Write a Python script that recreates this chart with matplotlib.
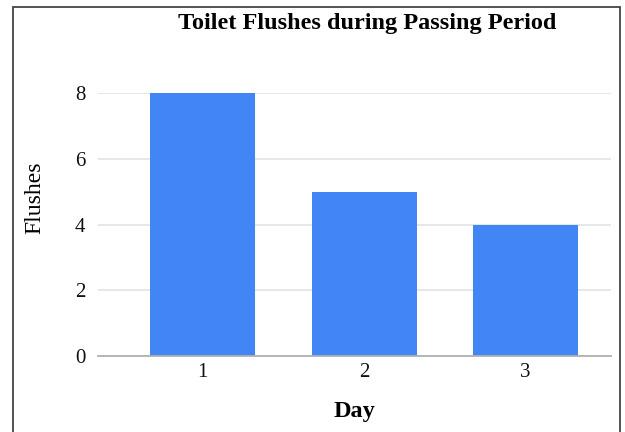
import matplotlib
matplotlib.use("Agg")
import matplotlib.pyplot as plt
from matplotlib.patches import Rectangle

days = ["1", "2", "3"]
flushes = [8, 5, 4]
y_ticks = [0, 2, 4, 6, 8]

plt.rcParams["font.family"] = ["Liberation Serif", "DejaVu Serif"]

W, H = 625, 432
fig = plt.figure(figsize=(W / 100, H / 100), dpi=100)
fig.patch.set_facecolor("white")

# frame around the chart
fig.add_artist(Rectangle((13 / W, -0.05), (620 - 13) / W, 1.05 - 7 / H,
                         transform=fig.transFigure, fill=False,
                         edgecolor="#444444", linewidth=1.3))

ax = fig.add_axes([98 / W, (H - 356) / H, (611 - 98) / W, (356 - 93) / H])
x = list(range(1, len(days) + 1))
ax.bar(x, flushes, width=0.65, color="#4285F4", zorder=3)

ax.set_xlim(0.35, 3.53)
ax.set_ylim(0, 8)
ax.set_xticks(x)
ax.set_xticklabels(days)
ax.set_yticks(y_ticks)
ax.grid(axis="y", color="#e3e3e3", linewidth=1.2, zorder=0)
ax.set_axisbelow(True)
for side in ["top", "right", "left"]:
    ax.spines[side].set_visible(False)
ax.spines["bottom"].set_color("#b0b0b0")
ax.spines["bottom"].set_linewidth(1.3)
ax.spines["bottom"].set_zorder(4)
ax.tick_params(axis="both", length=0, labelsize=15, colors="#111111")
ax.tick_params(axis="x", pad=5)
ax.tick_params(axis="y", pad=9)

fig.text(354 / W, 1 - 411 / H, "Day", ha="center", va="center",
         fontsize=17.5, fontweight="bold")
fig.text(35 / W, 1 - 198 / H, "Flushes", ha="center", va="center",
         rotation=90, fontsize=17)
fig.text(367 / W, 1 - 23 / H, "Toilet Flushes during Passing Period",
         ha="center", va="center", fontsize=17.5, fontweight="bold")

fig.savefig("out.png", dpi=100)
